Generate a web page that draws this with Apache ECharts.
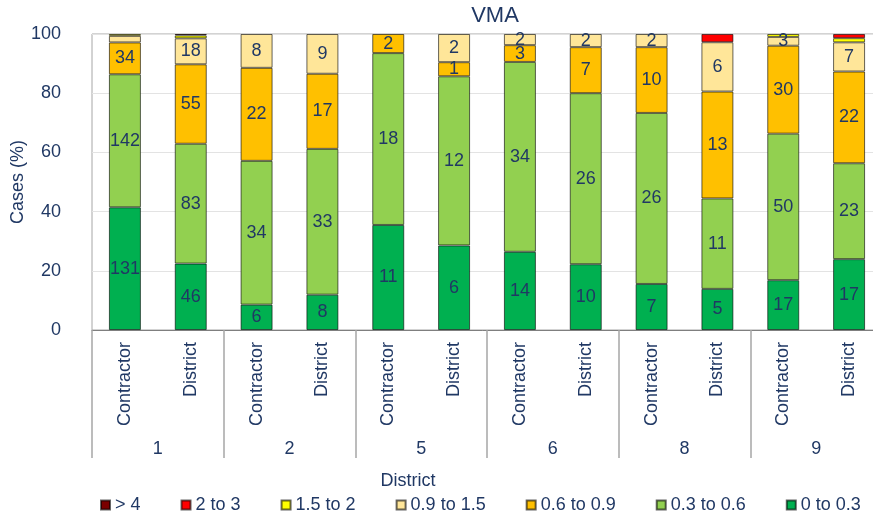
<!DOCTYPE html>
<html>
<head>
<meta charset="utf-8">
<script src="https://cdn.jsdelivr.net/npm/echarts@6/dist/echarts.min.js"></script>
<style>
  html, body { margin: 0; padding: 0; background: #fff; }
  #chart { width: 873px; height: 516px; }
</style>
</head>
<body>
<div id="chart"></div>
<script>
const NAVY = '#203864';

// bars: C1, D1, C2, D2, C5, D5, C6, D6, C8, D8, C9, D9
const barLabels = ['Contractor', 'District', 'Contractor', 'District', 'Contractor', 'District',
  'Contractor', 'District', 'Contractor', 'District', 'Contractor', 'District'];
const districts = ['1', '2', '5', '6', '8', '9'];

// case counts per range (bottom to top)
const r0to03 = [131, 46, 6, 8, 11, 6, 14, 10, 7, 5, 17, 17];
const r03to06 = [142, 83, 34, 33, 18, 12, 34, 26, 26, 11, 50, 23];
const r06to09 = [34, 55, 22, 17, 2, 1, 3, 7, 10, 13, 30, 22];
const r09to15 = [7, 18, 8, 9, 0, 2, 2, 2, 2, 6, 3, 7];
const r15to2 = [2, 2, 0, 0, 0, 0, 0, 0, 0, 0, 1, 1];
const r2to3 = [0, 0, 0, 0, 0, 0, 0, 0, 0, 1, 0, 1];
const rOver4 = [0, 1, 0, 0, 0, 0, 0, 0, 0, 0, 0, 0];

const seriesNames = ['0 to 0.3', '0.3 to 0.6', '0.6 to 0.9', '0.9 to 1.5', '1.5 to 2', '2 to 3', '> 4'];
const seriesCounts = [r0to03, r03to06, r06to09, r09to15, r15to2, r2to3, rOver4];
const colors = ['#00b050', '#92d050', '#ffc000', '#ffe699', '#ffff00', '#ff0000', '#7b0000'];
const labelled = [true, true, true, true, false, false, false];
// [series, bar] labels left off in the original
const hiddenLabels = [[3, 0]];

const totals = barLabels.map((_, i) => seriesCounts.reduce((s, arr) => s + arr[i], 0));

const series = seriesCounts.map((counts, si) => ({
  name: seriesNames[si],
  type: 'bar',
  stack: 'all',
  barWidth: 32,
  xAxisIndex: 0,
  itemStyle: { color: colors[si], borderColor: 'rgba(0,0,0,0.6)', borderWidth: 1 },
  label: {
    show: labelled[si],
    position: 'inside',
    color: NAVY,
    fontSize: 18,
    fontFamily: 'Arial',
    formatter: p => {
      const hide = hiddenLabels.some(h => h[0] === si && h[1] === p.dataIndex);
      return hide ? '' : String(counts[p.dataIndex]);
    }
  },
  data: counts.map((c, i) => c === 0 ? null : c / totals[i] * 100)
}));

const chart = echarts.init(document.getElementById('chart'));
chart.setOption({
  animation: false,
  textStyle: { fontFamily: 'Arial' },
  grid: {
    left: 92, right: -9, top: 34, bottom: 186,
    outerBoundsMode: 'none',
    containLabel: false,
    show: true, borderColor: '#a6a6a6', borderWidth: 1
  },
  graphic: [
    { type: 'text', x: 495, y: 16, style: { text: 'VMA', align: 'center', verticalAlign: 'middle', fill: NAVY, font: '22px Arial' } },
    { type: 'text', x: 408, y: 481, style: { text: 'District', align: 'center', verticalAlign: 'middle', fill: NAVY, font: '18px Arial' } }
  ],
  legend: {
    left: 95, top: 491,
    itemWidth: 9, itemHeight: 9, itemGap: 40,
    icon: 'rect',
    textStyle: { color: NAVY, fontSize: 18, fontFamily: 'Arial' },
    data: seriesNames.slice().reverse()
  },
  xAxis: [{
    type: 'category',
    data: barLabels,
    position: 'bottom',
    axisLine: { lineStyle: { color: '#7f7f7f', width: 1 } },
    axisTick: { show: false },
    axisLabel: { rotate: 90, margin: 12, color: NAVY, fontSize: 18, interval: 0 }
  }, {
    type: 'category',
    data: districts,
    position: 'bottom',
    axisLine: { show: false },
    axisTick: { show: true, length: 128, lineStyle: { color: '#a6a6a6', width: 1.5 } },
    axisLabel: { margin: 110, color: NAVY, fontSize: 18 }
  }],
  yAxis: {
    type: 'value',
    min: 0, max: 100, interval: 20,
    name: 'Cases (%)',
    nameLocation: 'middle',
    nameGap: 65,
    nameMoveOverlap: false,
    nameTextStyle: { color: NAVY, fontSize: 18 },
    axisLine: { show: false },
    axisTick: { show: false },
    axisLabel: { margin: 31, color: NAVY, fontSize: 18 },
    splitLine: { lineStyle: { color: '#e3e3e3' } }
  },
  series: series
});
</script>
</body>
</html>
